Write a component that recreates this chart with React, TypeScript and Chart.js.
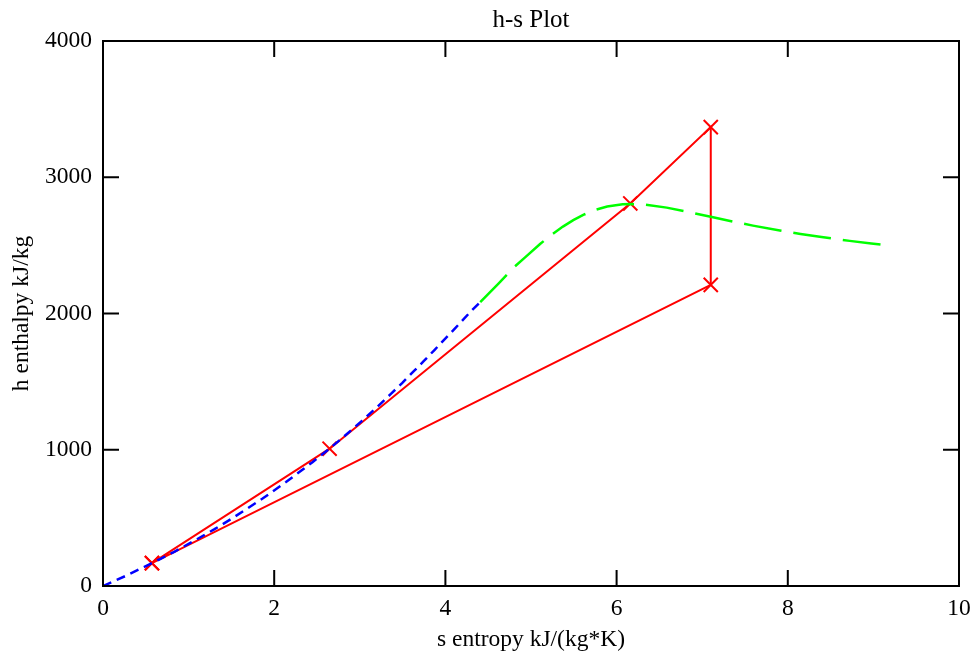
import { useEffect, useRef } from "react";
import { Chart, registerables } from "chart.js";

Chart.register(...registerables);

// Saturated liquid line (s, h)
const liquidS = [0, 0.106, 0.261, 0.476, 0.572, 0.649, 0.832, 1.091, 1.303, 1.53, 1.86, 2.138, 2.447, 2.645, 2.797, 3.028, 3.208, 3.36, 3.497, 3.622, 3.746, 3.872, 4.015, 4.11, 4.29, 4.407];
const liquidH = [0, 29, 73, 138, 168, 192, 251, 341, 417, 505, 640, 763, 909, 1008, 1087, 1214, 1317, 1408, 1491, 1571, 1650, 1732, 1827, 1889, 2011, 2084];

// Saturated vapour line (s, h)
const vaporS = [4.407, 4.62, 4.81, 4.931, 5.106, 5.246, 5.373, 5.494, 5.616, 5.745, 5.89, 6.07, 6.186, 6.339, 6.585, 6.821, 7.127, 7.359, 7.593, 7.907, 8.149, 8.394, 8.723, 8.975, 9.156];
const vaporH = [2084, 2220, 2345, 2412, 2510, 2581, 2638, 2685, 2725, 2759, 2785, 2801, 2803, 2798, 2777, 2748, 2706, 2675, 2645, 2609, 2584, 2561, 2533, 2514, 2501];

// Cycle states (s, h)
const cycleS = [0.572, 2.647, 6.16, 7.1, 7.1, 0.572];
const cycleH = [168, 1008, 2808, 3368, 2210, 168];

const xTicks = [0, 2, 4, 6, 8, 10];
const yTicks = [0, 1000, 2000, 3000, 4000];

const titleText = "h-s Plot";
const xTitle = "s entropy kJ/(kg*K)";
const yTitle = "h enthalpy kJ/kg";

const FONT = "'Liberation Serif', 'Times New Roman', serif";

const pts = (xs: number[], ys: number[]) => xs.map((x, i) => ({ x, y: ys[i] }));

const framePlugin = {
  id: "frame",
  afterDraw(chart: any) {
    const { ctx, chartArea } = chart;
    const { left, right, top, bottom } = chartArea;
    const xs = chart.scales.x;
    const ys = chart.scales.y;
    ctx.save();
    ctx.strokeStyle = "#000";
    ctx.lineWidth = 2;
    ctx.strokeRect(left, top, right - left, bottom - top);
    const L = 16;
    ctx.beginPath();
    for (const v of xTicks) {
      const p = xs.getPixelForValue(v);
      ctx.moveTo(p, bottom);
      ctx.lineTo(p, bottom - L);
      ctx.moveTo(p, top);
      ctx.lineTo(p, top + L);
    }
    for (const v of yTicks) {
      const p = ys.getPixelForValue(v);
      ctx.moveTo(left, p);
      ctx.lineTo(left + L, p);
      ctx.moveTo(right, p);
      ctx.lineTo(right - L, p);
    }
    ctx.stroke();
    ctx.fillStyle = "#000";
    ctx.font = `25px ${FONT}`;
    ctx.textAlign = "center";
    ctx.textBaseline = "middle";
    ctx.fillText(titleText, (left + right) / 2, 20);
    ctx.restore();
  },
};

export default function App() {
  const ref = useRef<HTMLCanvasElement>(null);
  useEffect(() => {
    const canvas = ref.current!;
    const chart = new Chart(canvas, {
      type: "scatter",
      data: {
        datasets: [
          {
            label: "liquid",
            data: pts(liquidS, liquidH),
            showLine: true,
            borderColor: "#0000ff",
            borderWidth: 2.5,
            borderDash: [9, 6],
            pointRadius: 0,
            order: 1,
          },
          {
            label: "vapour",
            data: pts(vaporS, vaporH),
            showLine: true,
            borderColor: "#00ff00",
            borderWidth: 2.5,
            borderDash: [38, 12],
            pointRadius: 0,
            order: 2,
          },
          {
            label: "cycle",
            data: pts(cycleS, cycleH),
            showLine: true,
            borderColor: "#ff0000",
            borderWidth: 2,
            pointStyle: "crossRot",
            pointRadius: 10,
            pointBorderColor: "#ff0000",
            pointBorderWidth: 2,
            order: 3,
          },
        ],
      },
      options: {
        animation: false,
        responsive: false,
        maintainAspectRatio: false,
        layout: { padding: { top: 41, right: 18, bottom: 0, left: 0 } },
        plugins: {
          legend: { display: false },
          tooltip: { enabled: false },
          title: { display: false },
        },
        scales: {
          x: {
            type: "linear",
            min: 0,
            max: 10,
            afterFit: (s: any) => {
              s.height = 75;
              s.paddingLeft = 0;
              s.paddingRight = 0;
            },
            afterBuildTicks: (s: any) => {
              s.ticks = xTicks.map((v) => ({ value: v }));
            },
            ticks: {
              color: "#000",
              font: { family: FONT, size: 23.5 },
              padding: 9,
              maxRotation: 0,
              callback: (v: any) => String(v),
            },
            grid: { display: false, drawTicks: false },
            border: { display: false },
            title: {
              display: true,
              text: xTitle,
              color: "#000",
              font: { family: FONT, size: 23.5 },
              padding: { top: 0, bottom: 7 },
            },
          },
          y: {
            type: "linear",
            min: 0,
            max: 4000,
            afterFit: (s: any) => {
              s.width = 103;
              s.paddingTop = 0;
              s.paddingBottom = 0;
            },
            afterBuildTicks: (s: any) => {
              s.ticks = yTicks.map((v) => ({ value: v }));
            },
            ticks: {
              color: "#000",
              font: { family: FONT, size: 23.5 },
              padding: 11,
              callback: (v: any) => String(v),
            },
            grid: { display: false, drawTicks: false },
            border: { display: false },
            title: {
              display: true,
              text: yTitle,
              color: "#000",
              font: { family: FONT, size: 23.5 },
              padding: { top: 8, bottom: 0 },
            },
          },
        },
      },
      plugins: [framePlugin],
    });
    return () => chart.destroy();
  }, []);
  return (
    <div style={{ position: "absolute", left: 0, top: 0, width: 977, height: 661, background: "#fff" }}>
      <canvas ref={ref} width={977} height={661} style={{ display: "block", width: 977, height: 661 }} />
    </div>
  );
}
